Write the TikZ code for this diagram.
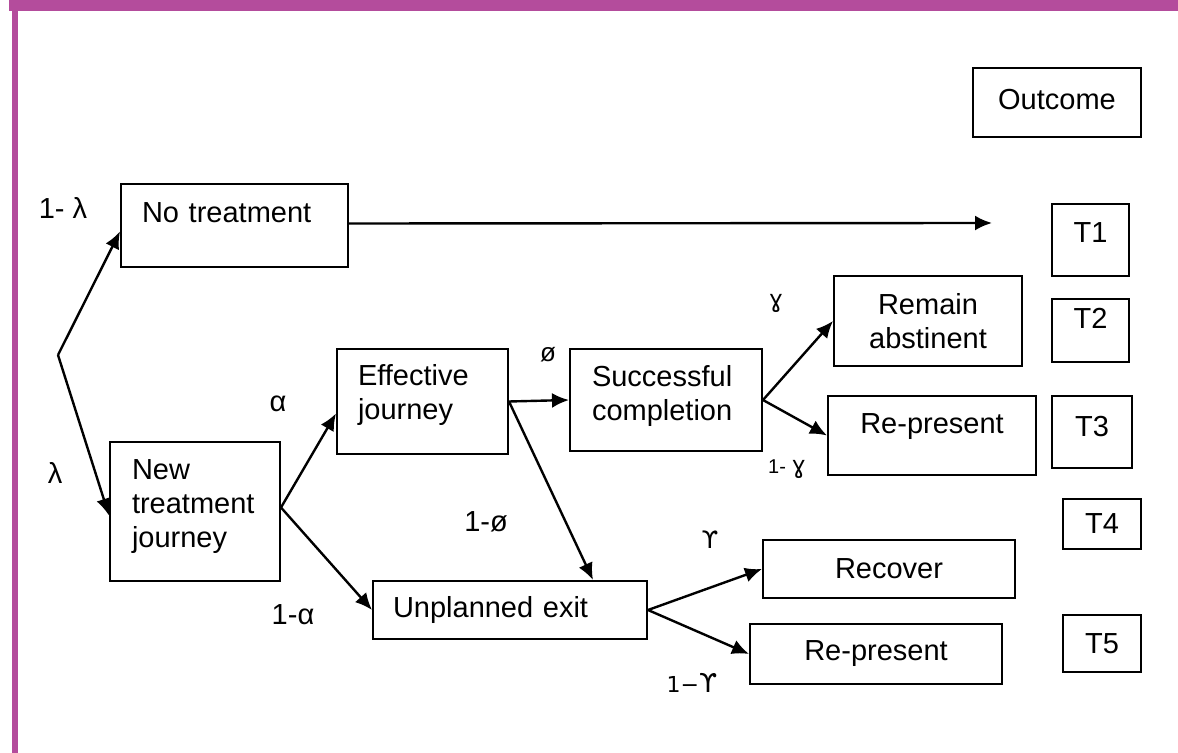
\documentclass[tikz,border=0pt]{standalone}
\usepackage{fontspec}
\setmainfont{Liberation Sans}
\newfontfamily\symfont{DejaVu Sans}
\usetikzlibrary{arrows.meta}
\definecolor{framepurple}{HTML}{B44C9C}

\begin{document}
\begin{tikzpicture}[x=0.5pt, y=-0.5pt,
  box/.style={draw, line width=1pt, inner sep=0pt, font=\fontsize{14.5}{17}\selectfont},
  lbox/.style={box, align=left},
  arr/.style={line width=1.2pt, -{Latex[length=8.5pt,width=7.5pt]}},
  lbl/.style={inner sep=0pt, font=\fontsize{14.5}{17}\selectfont},
  slbl/.style={inner sep=0pt, font=\symfont\fontsize{11}{13}\selectfont}]
\useasboundingbox (0,0) rectangle (1178,753);

% Frame
\fill[framepurple] (9,0) rectangle (1178,11);
\fill[framepurple] (12,0) rectangle (18,753);

% Outcome column
\node[box, minimum width=84pt, minimum height=34.5pt, text depth=3pt] (outcome) at (1057,102.5) {Outcome};
\node[box, minimum width=38.5pt, minimum height=36pt, text depth=7.5pt] (t1) at (1090.5,240) {T1};
\node[box, minimum width=38.5pt, minimum height=31.5pt, text depth=12.5pt] (t2) at (1090.5,330.5) {T2};
\node[box, minimum width=40pt, minimum height=36pt, text depth=6pt] (t3) at (1092,432) {T3};
\node[box, minimum width=39pt, minimum height=25pt] (t4) at (1102,524) {T4};
\node[box, minimum width=39pt, minimum height=28.5pt] (t5) at (1102,643.5) {T5};

% Pathways
\node[lbox, inner xsep=10.5pt, text width=92.5pt, minimum height=41.5pt, text depth=12.5pt] (notreat) at (234.5,225.5) {No treatment};
\node[lbox, inner xsep=11pt, text width=63pt, minimum height=69.5pt, text depth=41.5pt] (newtreat) at (195,511.5) {New\\treatment\\journey};
\node[lbox, inner xsep=10.5pt, text width=64.5pt, minimum height=52.5pt, text depth=27pt] (effective) at (422.5,401.5) {Effective\\journey};
\node[lbox, inner xsep=11pt, text width=74pt, minimum height=51pt, text depth=24.5pt] (success) at (666,400) {Successful\\completion};
\node[lbox, inner xsep=10pt, text width=117pt, minimum height=29pt] (unplanned) at (510,610) {Unplanned exit};
\node[box, align=center, minimum width=94pt, minimum height=45pt] (abstinent) at (928,321) {Remain\\abstinent};
\node[box, minimum width=104pt, minimum height=39.5pt, text depth=11.5pt] (represA) at (932,435.5) {Re-present};
\node[box, minimum width=126pt, minimum height=29pt] (recover) at (889,569) {Recover};
\node[box, minimum width=126pt, minimum height=30pt] (represB) at (876,654) {Re-present};

% Connectors
\coordinate (split) at (58,355);
\coordinate (notreatend) at (992,223);
\draw[arr] (split) -- ([yshift=-3pt]notreat.west);
\draw[arr] (split) -- ([yshift=-2pt]newtreat.west);
\draw[arr] ([yshift=1pt]notreat.east) -- (notreatend);
\draw[arr] ([yshift=2pt]newtreat.east) -- ([yshift=-6pt]effective.west);
\draw[arr] ([yshift=2pt]newtreat.east) -- (unplanned.west);
\draw[arr] (effective.east) -- (success.west);
\draw[arr] (effective.east) -- ([xshift=41.5pt]unplanned.north);
\draw[arr] (success.east) -- (abstinent.west);
\draw[arr] (success.east) -- (represA.west);
\draw[arr] (unplanned.east) -- (recover.west);
\draw[arr] (unplanned.east) -- (represB.west);

% Probabilities
\node[lbl] (pnotreat) at (63,208) {1- λ};
\node[lbl] (ptreat) at (55,473) {λ};
\node[lbl] (palpha) at (278,404) {α};
\node[lbl] (pnalpha) at (293,615) {1-α};
\node[lbl, font=\fontsize{13}{15}\selectfont] (pphi) at (548,355) {ø};
\node[lbl] (pnphi) at (486,522) {1-ø};
\node[slbl, font=\symfont\fontsize{12}{14}\selectfont] (pgamma) at (776,303) {ɣ};
\node[lbl, font=\fontsize{10}{12}\selectfont] (pngamma) at (787,469) {1- {\symfont\fontsize{12}{14}\selectfont ɣ}};
\node[slbl, font=\symfont\fontsize{12}{14}\selectfont] (pups) at (710,540) {ϒ};
\node[slbl] (pnups) at (692,683) {1−{\fontsize{13}{15}\selectfont ϒ}};
\end{tikzpicture}
\end{document}
